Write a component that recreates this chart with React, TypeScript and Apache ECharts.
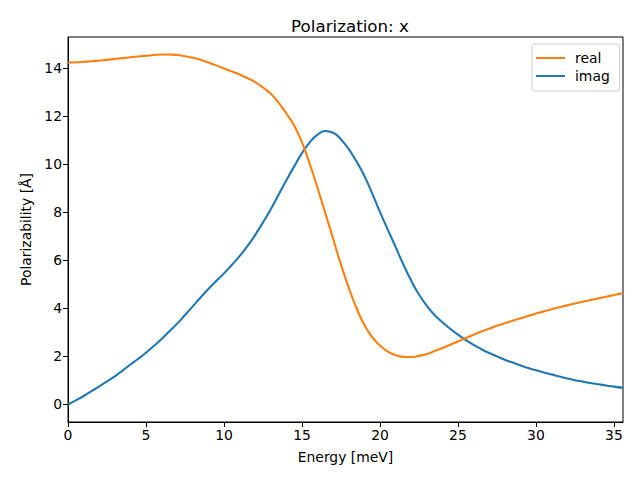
import React, { useEffect, useRef } from "react";
import * as echarts from "echarts";

const energy = [
  0, 0.5, 1, 1.5, 2, 2.5, 3, 3.5, 4, 4.5, 5, 5.5, 6, 6.5, 7, 7.5, 8, 8.5, 9, 9.5,
  10, 10.5, 11, 11.5, 12, 12.5, 13, 13.5, 14, 14.5, 15, 15.5, 16, 16.5, 17, 17.5, 18, 18.5, 19, 19.5,
  20, 20.5, 21, 21.5, 22, 22.5, 23, 23.5, 24, 24.5, 25, 25.5, 26, 26.5, 27, 27.5, 28, 28.5, 29, 29.5,
  30, 30.5, 31, 31.5, 32, 32.5, 33, 33.5, 34, 34.5, 35, 35.58,
];
const realValues = [
  14.22, 14.23, 14.25, 14.27, 14.3, 14.33, 14.37, 14.4, 14.44, 14.47, 14.5, 14.53, 14.55, 14.55, 14.53, 14.48, 14.42, 14.33, 14.22, 14.1,
  13.97, 13.85, 13.72, 13.57, 13.4, 13.18, 12.92, 12.55, 12.1, 11.6, 10.9, 10.0, 9.0, 7.95, 6.88, 5.82, 4.85, 4.0, 3.3, 2.8,
  2.45, 2.2, 2.05, 1.98, 1.97, 2.02, 2.1, 2.22, 2.35, 2.48, 2.62, 2.76, 2.9, 3.03, 3.15, 3.27, 3.38, 3.48, 3.58, 3.68,
  3.78, 3.87, 3.96, 4.04, 4.12, 4.2, 4.27, 4.34, 4.41, 4.48, 4.55, 4.63,
];
const imagValues = [
  0, 0.17, 0.35, 0.55, 0.75, 0.96, 1.17, 1.41, 1.66, 1.9, 2.15, 2.43, 2.72, 3.04, 3.36, 3.72, 4.08, 4.45, 4.8, 5.13,
  5.45, 5.8, 6.17, 6.58, 7.05, 7.57, 8.12, 8.72, 9.32, 9.9, 10.45, 10.9, 11.22, 11.37, 11.3, 11.02, 10.62, 10.1, 9.5, 8.78,
  8.0, 7.27, 6.55, 5.82, 5.15, 4.57, 4.1, 3.72, 3.42, 3.15, 2.9, 2.68, 2.48, 2.3, 2.14, 2.0, 1.86, 1.74, 1.62, 1.52,
  1.42, 1.33, 1.25, 1.16, 1.08, 1.01, 0.95, 0.89, 0.84, 0.79, 0.74, 0.69,
];
const xTicks = [0, 5, 10, 15, 20, 25, 30, 35];
const yTicks = [0, 2, 4, 6, 8, 10, 12, 14];
const seriesNames = ["real", "imag"];
const colors = ["#ff7f0e", "#1f77b4"];

const FONT = "DejaVu Sans";

export default function App() {
  const ref = useRef<HTMLDivElement>(null);
  useEffect(() => {
    if (!ref.current) return;
    const chart = echarts.init(ref.current, null, { renderer: "svg" });
    const pairs = (ys: number[]) => energy.map((x, i) => [x, ys[i]]);
    chart.setOption({
      animation: false,
      backgroundColor: "#ffffff",
      title: {
        text: "Polarization: x",
        left: 345,
        top: 12,
        textAlign: "center",
        textStyle: { fontFamily: FONT, fontSize: 16.7, fontWeight: "normal", color: "#000" },
      },
      legend: {
        data: seriesNames.map((n) => ({ name: n, icon: "rect" })),
        orient: "vertical",
        left: 532,
        top: 44,
        itemWidth: 29,
        itemHeight: 2,
        itemGap: 4,
        padding: [7, 10, 8, 4],
        borderColor: "#cccccc",
        borderWidth: 1,
        borderRadius: 3,
        backgroundColor: "rgba(255,255,255,0.8)",
        textStyle: { fontFamily: FONT, fontSize: 13.9, color: "#000", padding: [0, 0, 0, 5], lineHeight: 14 },
      },
      grid: {
        left: 68,
        top: 37,
        width: 555,
        height: 385,
        show: true,
        borderColor: "#000",
        borderWidth: 1,
        backgroundColor: "transparent",
      },
      xAxis: {
        type: "value",
        min: 0,
        max: 35.58,
        name: "Energy [meV]",
        nameLocation: "middle",
        nameGap: 28,
        nameTextStyle: { fontFamily: FONT, fontSize: 13.9, color: "#000" },
        axisLine: { show: true, onZero: false, lineStyle: { color: "#000", width: 1 } },
        axisTick: { show: true, length: 5, customValues: xTicks, lineStyle: { color: "#000" } },
        axisLabel: { customValues: xTicks, fontFamily: FONT, fontSize: 13.9, color: "#000", margin: 6 },
        splitLine: { show: false },
      },
      yAxis: {
        type: "value",
        min: -0.73,
        max: 15.28,
        name: "Polarizability [Å]",
        nameLocation: "middle",
        nameGap: 35,
        nameTextStyle: { fontFamily: FONT, fontSize: 13.9, color: "#000" },
        axisLine: { show: true, onZero: false, lineStyle: { color: "#000", width: 1 } },
        axisTick: { show: true, length: 5, customValues: yTicks, lineStyle: { color: "#000" } },
        axisLabel: { customValues: yTicks, fontFamily: FONT, fontSize: 13.9, color: "#000", margin: 6 },
        splitLine: { show: false },
      },
      series: [
        {
          name: seriesNames[0],
          type: "line",
          data: pairs(realValues),
          smooth: 0.5,
          showSymbol: false,
          color: colors[0],
          lineStyle: { width: 2.1, color: colors[0] },
          z: 3,
        },
        {
          name: seriesNames[1],
          type: "line",
          data: pairs(imagValues),
          smooth: 0.5,
          showSymbol: false,
          color: colors[1],
          lineStyle: { width: 2.1, color: colors[1] },
          z: 2,
        },
      ],
    });
    return () => chart.dispose();
  }, []);
  return (
    <div
      ref={ref}
      style={{ position: "fixed", left: 0, top: 0, width: 640, height: 480 }}
    />
  );
}
